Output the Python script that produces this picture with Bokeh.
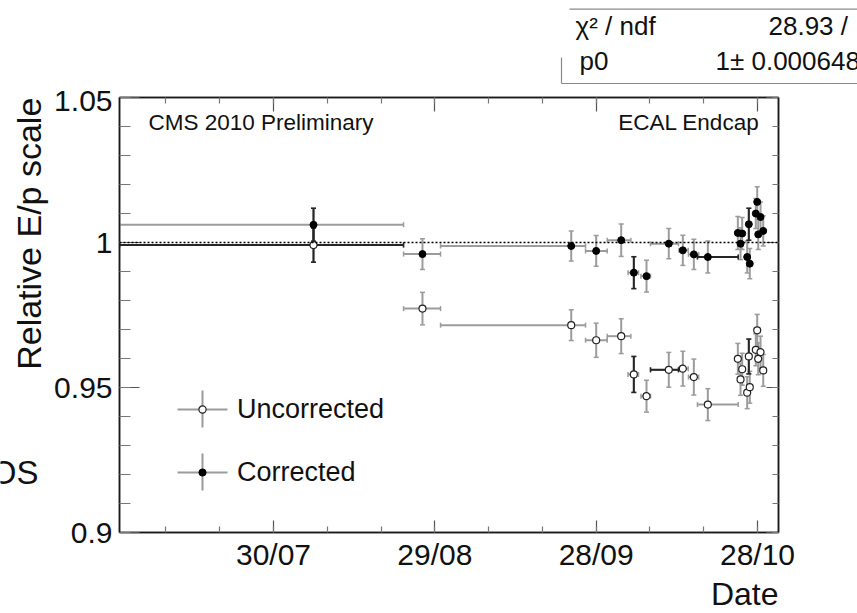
import math
import pandas as pd
from bokeh.plotting import figure
from bokeh.layouts import column, row
from bokeh.core.properties import value
from bokeh.models import (ColumnDataSource, Range1d, FixedTicker, DatetimeTickFormatter,
                          DatetimeAxis, LinearAxis, Whisker, TeeHead, Span, Label, Arrow,
                          Legend, LegendItem, CustomJSTickFormatter, Title)
from bokeh.embed import file_html
from bokeh.resources import INLINE

# ---------------- data ----------------
dates = ["2010-08-06 10:30", "2010-08-26 16:48", "2010-09-23 08:38", "2010-09-28 00:00",
         "2010-10-02 15:36", "2010-10-05 00:00", "2010-10-07 08:38", "2010-10-11 12:00",
         "2010-10-14 02:38", "2010-10-16 03:50", "2010-10-18 18:14", "2010-10-24 08:10",
         "2010-10-25 03:36", "2010-10-24 20:10", "2010-10-26 09:07", "2010-10-26 01:55",
         "2010-10-26 13:26", "2010-10-27 22:34", "2010-10-27 16:19", "2010-10-28 13:26",
         "2010-10-28 03:07", "2010-10-29 01:26"]
ex_lo_days = [36.07, 3.52, 24.30, 1.98, 2.60, 1.08, 1.03, 3.40, 0.70, 1.00, 1.93,
              0.25, 0.25, 0.25, 0.25, 0.25, 0.25, 0.25, 0.25, 0.25, 0.25, 0.25]
ex_hi_days = [16.74, 3.36, 2.66, 2.05, 1.80, 0.87, 0.74, 1.80, 1.00, 0.90, 5.65,
              0.25, 0.25, 0.25, 0.25, 0.25, 0.25, 0.25, 0.25, 0.25, 0.25, 0.25]
corrected = [1.0061, 0.9960, 0.9988, 0.9971, 1.0008, 0.9896, 0.9884, 0.9996, 0.9973, 0.9959, 0.9950,
             1.0033, 1.0031, 0.9996, 1.0063, 0.9950, 0.9927, 1.0140, 1.0100, 1.0088, 1.0028, 1.0040]
corrected_err = [0.0057, 0.0053, 0.0052, 0.0053, 0.0056, 0.0055, 0.0055, 0.0052, 0.0052, 0.0052, 0.0055,
                 0.0057, 0.0055, 0.0055, 0.0055, 0.0055, 0.0052, 0.0052, 0.0052, 0.0052, 0.0052, 0.0052]
uncorrected = [0.9991, 0.9772, 0.9715, 0.9663, 0.9677, 0.9545, 0.9470, 0.9561, 0.9565, 0.9536, 0.9441,
               0.9599, 0.9563, 0.9528, 0.9607, 0.9482, 0.9501, 0.9697, 0.9630, 0.9622, 0.9599, 0.9559]
uncorrected_err = [0.0059, 0.0056, 0.0053, 0.0059, 0.0060, 0.0062, 0.0055, 0.0060, 0.0060, 0.0062, 0.0055,
                   0.0053, 0.0055, 0.0055, 0.0060, 0.0055, 0.0055, 0.0055, 0.0055, 0.0055, 0.0055, 0.0055]

fit_p0 = 1.0
fit_p0_err = "0.000648"
fit_chi2 = "28.93"

x_tick_dates = ["2010-07-30", "2010-08-29", "2010-09-28", "2010-10-28"]
x_minor_dates = ["2010-07-10", "2010-07-20", "2010-07-30", "2010-08-09", "2010-08-19", "2010-08-29",
                 "2010-09-08", "2010-09-18", "2010-09-28", "2010-10-08", "2010-10-18", "2010-10-28"]
x_range_dates = ["2010-07-01 08:45", "2010-10-31 21:36"]
y_ticks = [0.9, 0.95, 1.0, 1.05]
y_minor_ticks = [0.90, 0.91, 0.92, 0.93, 0.94, 0.95, 0.96, 0.97, 0.98, 0.99,
                 1.00, 1.01, 1.02, 1.03, 1.04, 1.05]

# indices of error bars that appear darker in the original
dark_corr_y = [0, 5, 14]
dark_corr_x = [10]
dark_unc_y = [0, 5, 14]
dark_unc_x = [0, 7]

DAY_MS = 86400000.0
FONT = "Liberation Sans"
GRAY = "#9c9c9c"
DARK = "#262626"
TXT = "#111111"

W, H = 857, 613
HEAD_H = 90      # header strip (fit statistics box)
LEFT_W = 50      # left strip (y-axis title)
FRAME_L, FRAME_R, FRAME_T, FRAME_B = 119, 778, 97, 532


def to_ms(strings):
    s = pd.to_datetime(pd.Series(strings))
    return list((s - pd.Timestamp("1970-01-01")) / pd.Timedelta(milliseconds=1))


x_ms = to_ms(dates)
xlo = [x - a * DAY_MS for x, a in zip(x_ms, ex_lo_days)]
xhi = [x + b * DAY_MS for x, b in zip(x_ms, ex_hi_days)]


def make_source(vals, errs, idx=None):
    ids = range(len(vals)) if idx is None else idx
    return ColumnDataSource(dict(
        x=[x_ms[i] for i in ids], y=[vals[i] for i in ids],
        xlo=[xlo[i] for i in ids], xhi=[xhi[i] for i in ids],
        ylo=[vals[i] - errs[i] for i in ids], yhi=[vals[i] + errs[i] for i in ids]))


def blank_fig(width, height, x0, x1, y_top, y_bot, border_top=0, border_bottom=0):
    f = figure(width=width, height=height, x_range=Range1d(x0, x1), y_range=Range1d(y_bot, y_top),
               x_axis_location=None, y_axis_location=None, output_backend="svg",
               toolbar_location=None, min_border_left=0, min_border_right=0,
               min_border_top=border_top, min_border_bottom=border_bottom)
    f.grid.visible = False
    f.outline_line_color = None
    f.background_fill_color = "white"
    f.border_fill_color = "white"
    return f


# ---------------- main plot ----------------
rng = to_ms(x_range_dates)
p = figure(width=W - LEFT_W, height=H - HEAD_H, x_axis_type="datetime",
           x_range=Range1d(rng[0], rng[1]), y_range=Range1d(0.9, 1.05),
           output_backend="svg", toolbar_location=None,
           min_border_left=FRAME_L - LEFT_W, min_border_right=W - FRAME_R,
           min_border_top=FRAME_T - HEAD_H, min_border_bottom=H - FRAME_B)
p.grid.visible = False
p.background_fill_color = "white"
p.border_fill_color = "white"
p.outline_line_color = "#1a1a1a"
p.outline_line_width = 1.5

x_ticker = FixedTicker(ticks=to_ms(x_tick_dates), minor_ticks=to_ms(x_minor_dates))
y_ticker = FixedTicker(ticks=y_ticks, minor_ticks=y_minor_ticks)
fmt = "%d/%m"
dt_fmt = DatetimeTickFormatter(milliseconds=fmt, seconds=fmt, minsec=fmt, minutes=fmt,
                               hourmin=fmt, hours=fmt, days=fmt, months=fmt, years=fmt)


def style_axis(ax, major_in, minor_in, labels=True):
    ax.axis_line_color = "#1a1a1a"
    ax.axis_line_width = 1.5
    ax.major_tick_in = major_in
    ax.major_tick_out = 0
    ax.minor_tick_in = minor_in
    ax.minor_tick_out = 0
    ax.major_tick_line_color = "#555555"
    ax.minor_tick_line_color = "#777777"
    ax.major_tick_line_width = 1.2
    ax.minor_tick_line_width = 1.2
    ax.major_label_text_font = FONT
    ax.major_label_text_color = TXT
    if labels:
        ax.major_label_text_font_size = "30px"
    else:
        ax.major_label_text_font_size = "0px"
        ax.major_label_standoff = 0


xa = p.xaxis[0]
xa.ticker = x_ticker
xa.formatter = dt_fmt
style_axis(xa, 12, 6)
xa.major_label_standoff = 5

ya = p.yaxis[0]
ya.ticker = y_ticker
style_axis(ya, 20, 11)
ya.major_label_standoff = 7

top_ax = DatetimeAxis(ticker=x_ticker, formatter=CustomJSTickFormatter(code="return ''"))
style_axis(top_ax, 14, 6, labels=False)
p.add_layout(top_ax, "above")

right_ax = LinearAxis(ticker=y_ticker, formatter=CustomJSTickFormatter(code="return ''"))
style_axis(right_ax, 12, 6, labels=False)
p.add_layout(right_ax, "right")

p.add_layout(Title(text="Date", align="right", standoff=0, text_font=FONT,
                   text_font_size="32px", text_font_style="normal", text_color=TXT), "below")


def add_whiskers(src, color, do_x=True, do_y=True):
    dims = []
    if do_y:
        dims.append(("x", "ylo", "yhi", "height"))
    if do_x:
        dims.append(("y", "xlo", "xhi", "width"))
    for base, lo, hi, dim in dims:
        p.add_layout(Whisker(source=src, base=base, lower=lo, upper=hi, dimension=dim,
                             line_color=color, line_width=2,
                             upper_head=TeeHead(size=5, line_color=color, line_width=1.5),
                             lower_head=TeeHead(size=5, line_color=color, line_width=1.5)))


unc_src = make_source(uncorrected, uncorrected_err)
corr_src = make_source(corrected, corrected_err)
add_whiskers(unc_src, GRAY)
add_whiskers(corr_src, GRAY)
add_whiskers(make_source(uncorrected, uncorrected_err, dark_unc_y), DARK, do_x=False)
add_whiskers(make_source(uncorrected, uncorrected_err, dark_unc_x), DARK, do_y=False)
add_whiskers(make_source(corrected, corrected_err, dark_corr_y), DARK, do_x=False)
add_whiskers(make_source(corrected, corrected_err, dark_corr_x), DARK, do_y=False)

unc_r = p.scatter("x", "y", source=unc_src, marker="circle", size=7,
                  fill_color="white", line_color="#222222", line_width=1.2)
corr_r = p.scatter("x", "y", source=corr_src, marker="circle", size=7,
                   fill_color="black", line_color="black", line_width=1)

p.add_layout(Span(location=fit_p0, dimension="width", line_color="black",
                  line_dash="2 2", line_width=1.5))


def frame_label(text, x, y, size, align="left"):
    p.add_layout(Label(text=text, x=x, y=y, x_units="screen", y_units="screen",
                       text_font=FONT, text_font_size=size, text_color=TXT,
                       text_align=align, text_baseline="middle"))


def frame_line(x0, y0, x1, y1, color, width):
    p.add_layout(Arrow(end=None, start=None, x_start=x0, y_start=y0, x_end=x1, y_end=y1,
                       start_units="screen", end_units="screen",
                       line_color=color, line_width=width))


frame_label("CMS 2010 Preliminary", 29, 410, "22.5px")
frame_label("ECAL Endcap", 640, 410, "22.5px", align="right")

# legend error-bar crosses (drawn below the legend markers)
for cy in (123, 60):
    frame_line(58, cy, 108, cy, GRAY, 2)
    frame_line(83, cy + 19, 83, cy - 18, GRAY, 2)

legend = Legend(items=[LegendItem(label="Uncorrected", renderers=[unc_r]),
                       LegendItem(label="Corrected", renderers=[corr_r])],
                location=(74, 44.5), glyph_width=18, glyph_height=18, label_height=18,
                spacing=32, padding=0, margin=0, label_standoff=26,
                background_fill_alpha=0, border_line_alpha=0,
                label_text_font=FONT, label_text_font_size="27px", label_text_color=TXT)
p.add_layout(legend)

# ---------------- header strip: fit statistics box ----------------
head = blank_fig(W, HEAD_H, 0, W, 0, HEAD_H)
box_src = ColumnDataSource(dict(x0=[569, 561, 561], y0=[8.7, 83, 57], x1=[W, W, 561], y1=[8.7, 83, 83]))
head.segment("x0", "y0", "x1", "y1", source=box_src, line_color="#8a8a8a", line_width=1.2)
stat_src = ColumnDataSource(dict(
    x=[575, 768, 579, 715], y=[25, 25, 60, 60],
    text=["\u03c7\u00b2 / ndf", fit_chi2 + " /", "p0", "%g\u00b1 %s" % (fit_p0, fit_p0_err)]))
head.text("x", "y", text="text", source=stat_src, text_font=value(FONT),
          text_font_size=value("26px"), text_color=TXT, text_baseline="middle", text_align="left")

# ---------------- left strip: y-axis title (frame aligned with main frame) ----------------
left = blank_fig(LEFT_W, H - HEAD_H, 0, LEFT_W, FRAME_T, FRAME_B,
                 border_top=FRAME_T - HEAD_H, border_bottom=H - FRAME_B)
left.text(x=[28], y=[FRAME_T + 0.2], text=["Relative E/p scale"], angle=math.pi / 2,
          text_font=value(FONT), text_font_size=value("34px"), text_color=TXT,
          text_align="right", text_baseline="middle")
left.text(x=[38], y=[472], text=["OS"], text_font=value(FONT),
          text_font_size=value("33px"), text_color=TXT, text_align="right", text_baseline="middle")

layout = column(head, row(left, p, spacing=0), spacing=0)
open("out.html", "w").write(file_html(layout, INLINE))
